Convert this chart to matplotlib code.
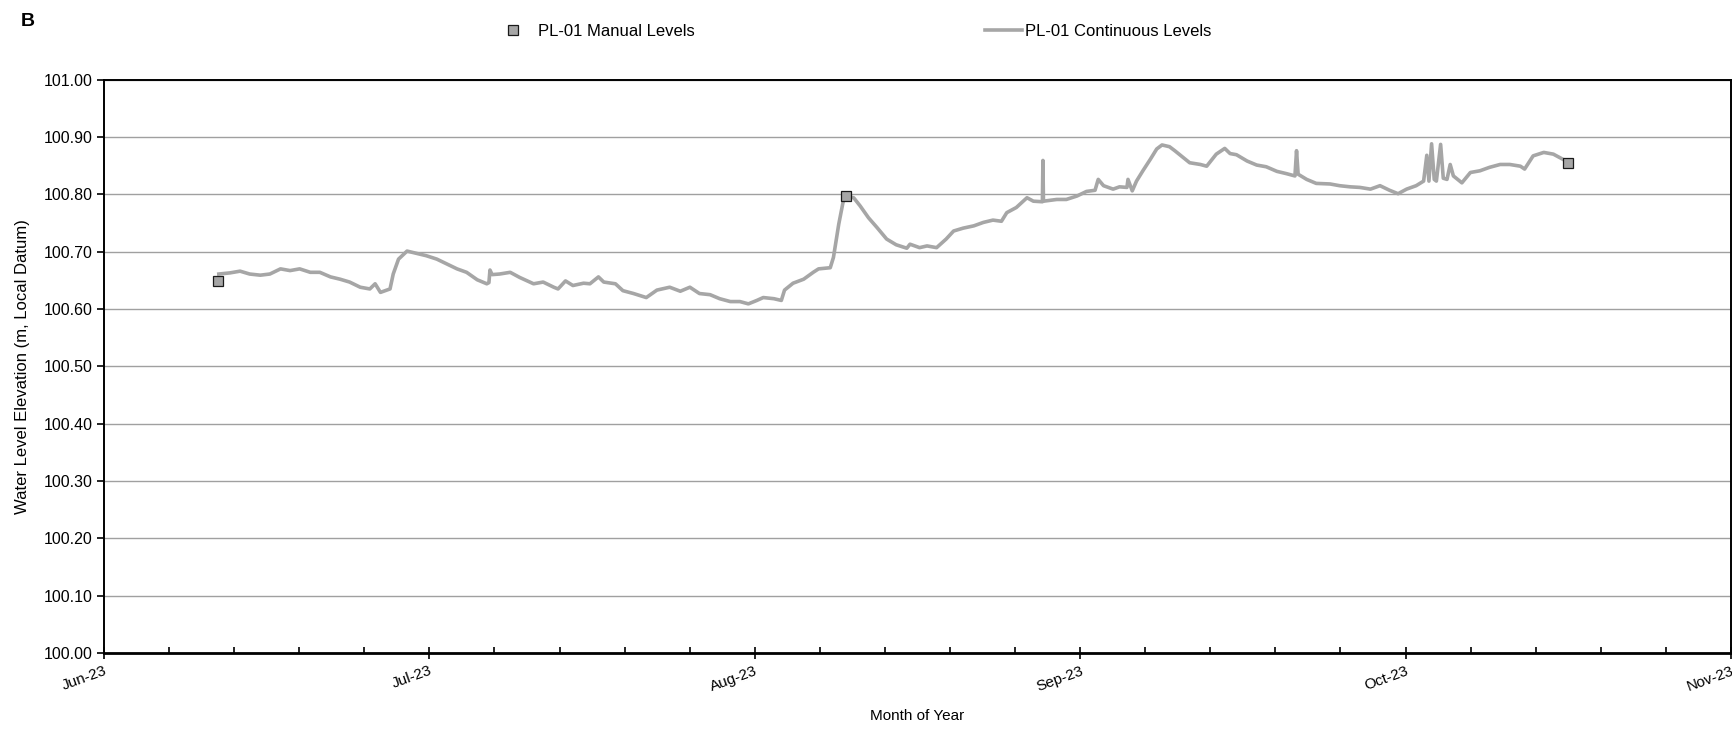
import numpy as np
import pandas as pd
import matplotlib
matplotlib.use("Agg")
import matplotlib.pyplot as plt
import matplotlib.dates as mdates
from matplotlib.lines import Line2D

plt.rcParams['font.family'] = ['Liberation Sans', 'DejaVu Sans']

# data (days after 2023-06-01, level in m)
start = pd.Timestamp('2023-06-01')
end = pd.Timestamp('2023-11-01')

manual_day = [10.7, 69.8, 137.7]
manual_level = [100.649, 100.797, 100.855]

cont_day = [10.8, 11.85, 12.8, 13.7, 14.7, 15.6, 16.6, 17.5, 18.4, 19.4, 20.3, 21.3, 22.2, 23.1,
            24.1, 25.0, 25.5, 26.0, 26.9, 27.2, 27.7, 28.5, 29.4, 30.3, 31.3, 32.2, 33.2, 34.1,
            35.1, 36.0, 36.2, 36.3, 36.5, 37.2, 38.2, 39.1, 40.4, 41.3, 42.3, 42.7, 43.4, 44.1,
            45.1, 45.7, 46.5, 47.0, 48.1, 48.8, 49.8, 51.0, 52.0, 53.2, 54.2, 55.1, 56.0, 57.0,
            57.9, 58.9, 59.8, 60.6, 61.4, 62.0, 63.0, 63.7, 64.0, 64.8, 65.8, 66.7, 67.2, 68.3,
            68.6, 69.1, 69.5, 69.8, 70.5, 71.1, 71.9, 72.7, 73.6, 74.5, 75.5, 75.8, 76.7, 77.4,
            78.3, 79.2, 79.9, 80.8, 81.8, 82.7, 83.6, 84.4, 84.9, 85.8, 86.8, 87.4, 88.25, 88.3,
            88.35, 89.6, 90.5, 91.5, 92.4, 93.2, 93.5, 94.0, 94.9, 95.5, 96.2, 96.3, 96.7, 97.1,
            97.7, 98.4, 99.0, 99.5, 100.2, 100.7, 101.3, 102.1, 103.1, 103.7, 104.6, 105.4, 105.9,
            106.5, 107.5, 108.4, 109.3, 110.3, 111.2, 112.0, 112.15, 112.3, 113.1, 114.0, 115.3,
            116.2, 117.2, 118.1, 119.1, 120.0, 120.9, 121.7, 122.5, 123.4, 124.1, 124.4, 124.6,
            124.85, 125.1, 125.3, 125.7, 125.95, 126.3, 126.6, 126.9, 127.7, 128.5, 129.4, 130.3,
            131.3, 132.2, 133.2, 133.6, 134.4, 135.4, 136.3, 137.2]
cont_level = [100.661, 100.663, 100.666, 100.661, 100.659, 100.661, 100.670, 100.667, 100.670,
              100.664, 100.664, 100.656, 100.652, 100.647, 100.638, 100.635, 100.644, 100.629,
              100.635, 100.661, 100.687, 100.701, 100.697, 100.693, 100.687, 100.679, 100.670,
              100.664, 100.651, 100.644, 100.646, 100.668, 100.660, 100.661, 100.664, 100.655,
              100.644, 100.647, 100.638, 100.635, 100.649, 100.641, 100.645, 100.644, 100.656,
              100.647, 100.644, 100.632, 100.627, 100.620, 100.633, 100.638, 100.631, 100.638,
              100.627, 100.625, 100.618, 100.613, 100.613, 100.609, 100.615, 100.620, 100.618,
              100.615, 100.633, 100.645, 100.652, 100.664, 100.670, 100.672, 100.690, 100.748,
              100.786, 100.797, 100.794, 100.780, 100.759, 100.742, 100.722, 100.712, 100.706,
              100.713, 100.707, 100.710, 100.707, 100.722, 100.736, 100.741, 100.745, 100.751,
              100.755, 100.753, 100.768, 100.777, 100.794, 100.788, 100.787, 100.859, 100.788,
              100.791, 100.791, 100.797, 100.805, 100.807, 100.826, 100.815, 100.809, 100.813,
              100.812, 100.826, 100.806, 100.823, 100.841, 100.861, 100.879, 100.886, 100.883,
              100.876, 100.867, 100.855, 100.852, 100.849, 100.870, 100.880, 100.871, 100.869,
              100.858, 100.851, 100.848, 100.840, 100.836, 100.832, 100.876, 100.835, 100.826,
              100.819, 100.818, 100.815, 100.813, 100.812, 100.809, 100.815, 100.807, 100.801,
              100.809, 100.815, 100.823, 100.868, 100.823, 100.888, 100.826, 100.823, 100.887,
              100.828, 100.826, 100.852, 100.832, 100.820, 100.838, 100.841, 100.847, 100.852,
              100.852, 100.849, 100.844, 100.867, 100.873, 100.870, 100.861]

month_labels = ['Jun-23', 'Jul-23', 'Aug-23', 'Sep-23', 'Oct-23', 'Nov-23']

manual_dates = start + pd.to_timedelta(manual_day, unit='D')
cont_dates = start + pd.to_timedelta(cont_day, unit='D')

line_col = '#a6a6a6'

fig = plt.figure(figsize=(17.33, 7.30), dpi=100)
ax = fig.add_axes([0.060, 0.1052, 0.9388, 0.7858])

ax.plot(cont_dates, cont_level, color=line_col, lw=2.6, zorder=3)
ax.plot(manual_dates, manual_level, ls='none', marker='s', ms=7, mfc=line_col,
        mec='#1a1a1a', mew=0.9, zorder=4)

x0, x1 = mdates.date2num(start), mdates.date2num(end)
ax.set_xlim(x0, x1)
ax.set_ylim(100.0, 101.0)

ax.set_xticks(np.linspace(x0, x1, 6))
ax.set_xticklabels(month_labels, rotation=20, ha='right', rotation_mode='anchor', fontsize=11)
ax.set_xticks(np.linspace(x0, x1, 26), minor=True)
ax.tick_params(axis='x', which='major', direction='inout', length=9, width=1.2, pad=3)
ax.tick_params(axis='x', which='minor', direction='in', length=4, width=1.2)

ax.set_yticks(np.arange(100.0, 101.001, 0.1))
ax.yaxis.set_major_formatter(plt.FormatStrFormatter('%.2f'))
ax.tick_params(axis='y', direction='out', length=5, width=1.2, labelsize=11.5, pad=3)

ax.grid(axis='y', color='#a0a0a0', lw=1.0)
ax.set_axisbelow(True)
for s in ax.spines.values():
    s.set_linewidth(1.4)
    s.set_color('black')
ax.spines['bottom'].set_linewidth(2)

ax.set_ylabel('Water Level Elevation (m, Local Datum)', fontsize=12)
ax.yaxis.set_label_coords(-0.0455, 0.5)
ax.set_xlabel('Month of Year', fontsize=11)
ax.xaxis.set_label_coords(0.5, -0.097)
ax.xaxis.label.set_va('top')

fig.text(0.012, 0.97, 'B', fontsize=14, fontweight='bold', va='center')

h1 = Line2D([], [], ls='none', marker='s', ms=7, mfc=line_col, mec='#1a1a1a', mew=0.9)
h2 = Line2D([], [], color=line_col, lw=2.6)
fig.legend([h1], ['PL-01 Manual Levels'], loc='center left', bbox_to_anchor=(0.2770, 0.9575),
           frameon=False, fontsize=12, handlelength=2.2, handletextpad=0.4)
fig.legend([h2], ['PL-01 Continuous Levels'], loc='center left', bbox_to_anchor=(0.5600, 0.9575),
           frameon=False, fontsize=12, handlelength=2.2, handletextpad=0.2)

fig.savefig('out.png', dpi=100)
